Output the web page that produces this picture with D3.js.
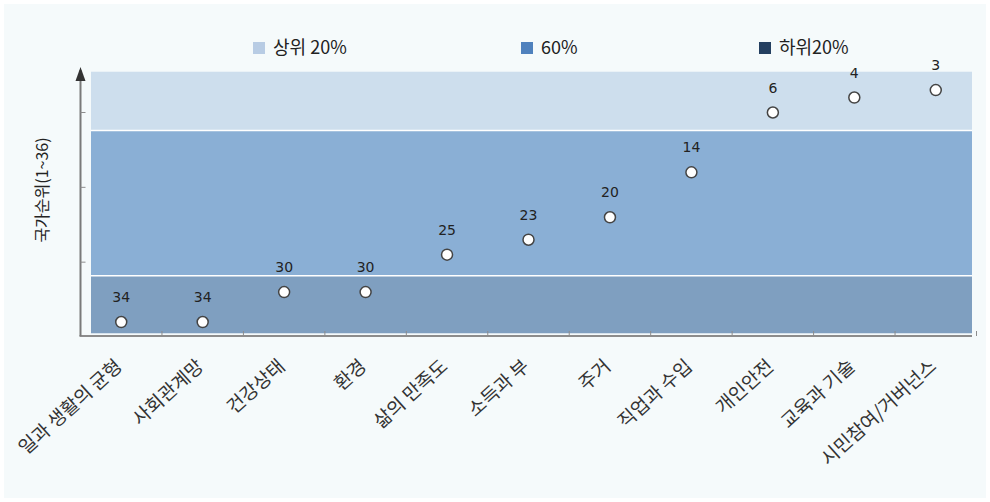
<!DOCTYPE html>
<html>
<head>
<meta charset="utf-8">
<script src="https://cdn.jsdelivr.net/npm/d3@7"></script>
<style>
  body { margin: 0; background: #ffffff; }
</style>
</head>
<body>
<svg id="chart"></svg>
<script>
// categories and country rank (1 = best, 36 = worst)
const categories = ["일과 생활의 균형", "사회관계망", "건강상태", "환경", "삶의 만족도", "소득과 부", "주거", "직업과 수입", "개인안전", "교육과 기술", "시민참여/거버넌스"];
const ranks = [34, 34, 30, 30, 25, 23, 20, 14, 6, 4, 3];

// background bands (rank edges) and legend
const bandNames = ["상위 20%", "60%", "하위20%"];
const bandEdges = [0.55, 8.4, 27.8, 35.5];
const bandFill = ["#cddeed", "#8aafd5", "#7f9fc0"];
const legendFill = ["#b8cce4", "#4f81bd", "#243f60"];
const yTicks = [6, 16, 26];

const width = 990;
const height = 502;
const kr = "'Noto Sans CJK KR', 'Noto Sans', sans-serif";

const svg = d3.select("#chart")
    .attr("width", width)
    .attr("height", height);

svg.append("rect")
    .attr("x", 4).attr("y", 4)
    .attr("width", width - 8).attr("height", height - 8)
    .attr("fill", "#f5fafb");

const axisX = 80.5;
const axisY = 336;
const plotLeft = 91;
const plotRight = 972;

const x = d3.scaleBand()
    .domain(categories)
    .range([axisX, 976.5]);

const y = d3.scaleLinear()
    .domain([0, 36])
    .range([67.6, 337]);

// bands
svg.append("g")
    .selectAll("rect")
    .data(bandNames)
    .enter()
    .append("rect")
    .attr("x", plotLeft)
    .attr("width", plotRight - plotLeft)
    .attr("y", (d, i) => y(bandEdges[i]))
    .attr("height", (d, i) => y(bandEdges[i + 1]) - y(bandEdges[i]))
    .attr("fill", (d, i) => bandFill[i]);

svg.append("g")
    .selectAll("line")
    .data(bandEdges.slice(1, 3))
    .enter()
    .append("line")
    .attr("x1", plotLeft).attr("x2", plotRight)
    .attr("y1", d => y(d)).attr("y2", d => y(d))
    .attr("stroke", "#ffffff")
    .attr("stroke-width", 1.5);

// x axis
svg.append("line")
    .attr("x1", axisX - 1).attr("x2", plotRight)
    .attr("y1", axisY).attr("y2", axisY)
    .attr("stroke", "#8c8c8c")
    .attr("stroke-width", 2);

svg.append("g")
    .selectAll("line")
    .data(categories)
    .enter()
    .append("line")
    .attr("x1", d => x(d) + x.bandwidth())
    .attr("x2", d => x(d) + x.bandwidth())
    .attr("y1", axisY)
    .attr("y2", axisY - 5)
    .attr("stroke", "#8c8c8c")
    .attr("stroke-width", 1);

svg.append("g")
    .selectAll("text")
    .data(categories)
    .enter()
    .append("text")
    .attr("transform", d => "translate(" + (x(d) + x.bandwidth() / 2 + 2) + "," + 368 + ") rotate(-42)")
    .attr("text-anchor", "end")
    .style("font-family", kr)
    .style("font-size", "19px")
    .attr("fill", "#333333")
    .text(d => d);

// y axis with arrow
svg.append("line")
    .attr("x1", axisX).attr("x2", axisX)
    .attr("y1", axisY).attr("y2", 70)
    .attr("stroke", "#7a7a7a")
    .attr("stroke-width", 2);

svg.append("path")
    .attr("d", d3.line()([[axisX - 5, 81], [axisX, 67], [axisX + 5, 81]]) + "Z")
    .attr("fill", "#333333");

svg.append("g")
    .selectAll("line")
    .data(yTicks)
    .enter()
    .append("line")
    .attr("x1", axisX).attr("x2", axisX + 5)
    .attr("y1", d => y(d)).attr("y2", d => y(d))
    .attr("stroke", "#8c8c8c");

svg.append("text")
    .attr("transform", "translate(48," + 190 + ") rotate(-90)")
    .attr("text-anchor", "middle")
    .style("font-family", kr)
    .style("font-size", "16px")
    .attr("fill", "#222222")
    .text("국가순위(1~36)");

// points and labels
const pts = svg.append("g");

pts.selectAll("circle")
    .data(ranks)
    .enter()
    .append("circle")
    .attr("cx", (d, i) => x(categories[i]) + x.bandwidth() / 2)
    .attr("cy", d => y(d))
    .attr("r", 5.5)
    .attr("fill", "#ffffff")
    .attr("stroke", "#444444")
    .attr("stroke-width", 1.5);

pts.selectAll("text")
    .data(ranks)
    .enter()
    .append("text")
    .attr("x", (d, i) => x(categories[i]) + x.bandwidth() / 2)
    .attr("y", d => y(d) - 20)
    .attr("text-anchor", "middle")
    .style("font-family", "'DejaVu Sans', sans-serif")
    .style("font-size", "14px")
    .attr("fill", "#222222")
    .text(d => d);

// legend
const legendX = [253, 521, 759];
const legend = svg.append("g")
    .selectAll("g")
    .data(bandNames)
    .enter()
    .append("g")
    .attr("transform", (d, i) => "translate(" + legendX[i] + ",42)");

legend.append("rect")
    .attr("width", 12).attr("height", 12)
    .attr("fill", (d, i) => legendFill[i]);

legend.append("text")
    .attr("x", 20)
    .attr("y", 12)
    .style("font-family", kr)
    .style("font-size", "18px")
    .attr("fill", "#222222")
    .text(d => d);
</script>
</body>
</html>
